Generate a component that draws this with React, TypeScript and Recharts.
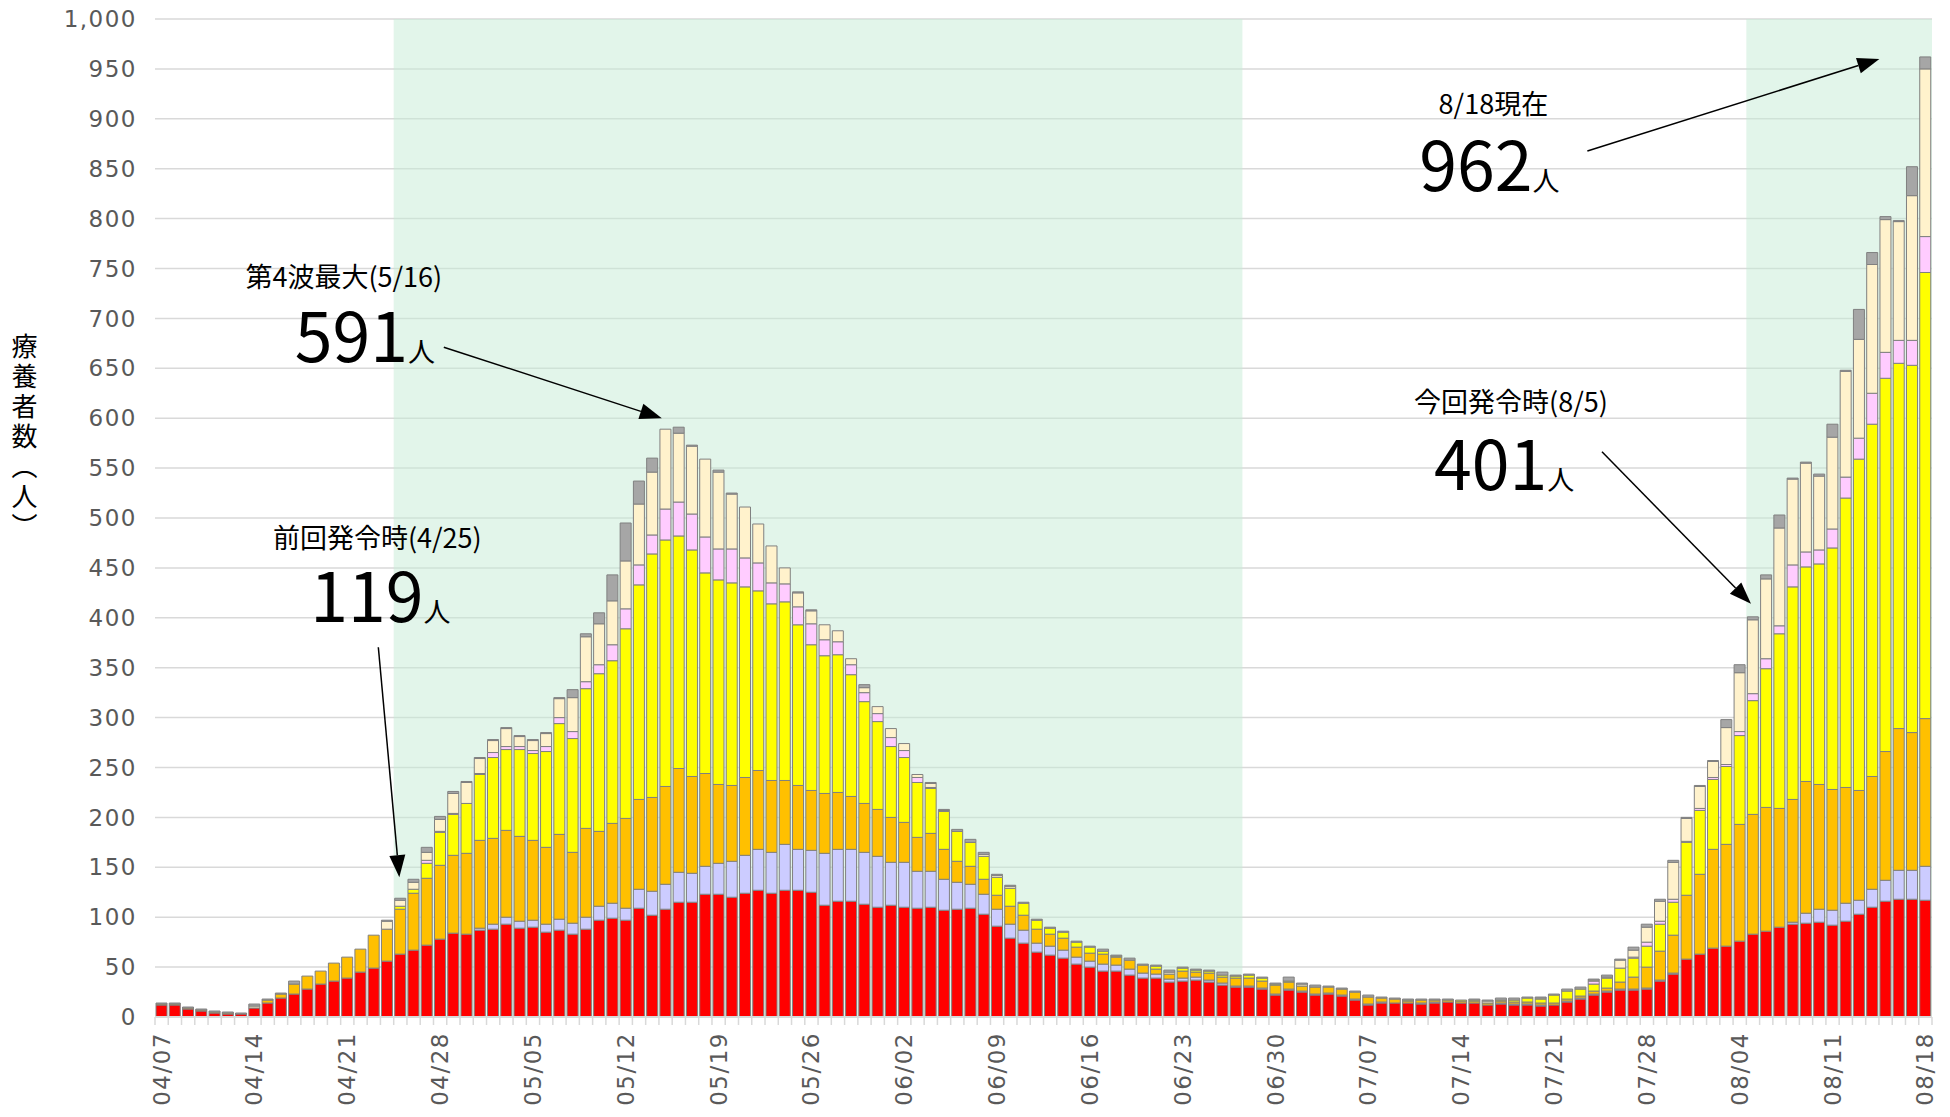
import React from 'react';
import { BarChart, Bar, XAxis, YAxis, CartesianGrid, ReferenceArea, ReferenceDot } from 'recharts';

// one bar per day, 04/07 - 08/18
const dates = [
    '04/07', '04/08', '04/09', '04/10', '04/11', '04/12', '04/13', '04/14', '04/15', '04/16', '04/17', '04/18',
    '04/19', '04/20', '04/21', '04/22', '04/23', '04/24', '04/25', '04/26', '04/27', '04/28', '04/29', '04/30',
    '05/01', '05/02', '05/03', '05/04', '05/05', '05/06', '05/07', '05/08', '05/09', '05/10', '05/11', '05/12',
    '05/13', '05/14', '05/15', '05/16', '05/17', '05/18', '05/19', '05/20', '05/21', '05/22', '05/23', '05/24',
    '05/25', '05/26', '05/27', '05/28', '05/29', '05/30', '05/31',
    '06/01', '06/02', '06/03', '06/04', '06/05', '06/06', '06/07', '06/08', '06/09', '06/10', '06/11', '06/12',
    '06/13', '06/14', '06/15', '06/16', '06/17', '06/18', '06/19', '06/20', '06/21', '06/22', '06/23', '06/24',
    '06/25', '06/26', '06/27', '06/28', '06/29', '06/30',
    '07/01', '07/02', '07/03', '07/04', '07/05', '07/06', '07/07', '07/08', '07/09', '07/10', '07/11', '07/12',
    '07/13', '07/14', '07/15', '07/16', '07/17', '07/18', '07/19', '07/20', '07/21', '07/22', '07/23', '07/24',
    '07/25', '07/26', '07/27', '07/28', '07/29', '07/30', '07/31',
    '08/01', '08/02', '08/03', '08/04', '08/05', '08/06', '08/07', '08/08', '08/09', '08/10', '08/11', '08/12',
    '08/13', '08/14', '08/15', '08/16', '08/17', '08/18',
];

// stacked segments, bottom to top
const red = [
    12, 12, 8, 6, 4, 3, 3, 9, 14, 19, 23, 28, 33, 36, 39, 45, 49, 56, 63, 67, 72,
    78, 84, 83, 87, 88, 93, 89, 90, 85, 87, 83, 88, 97, 99, 97, 109, 102, 108, 115, 115, 123,
    123, 120, 124, 127, 124, 127, 127, 125, 112, 116, 116, 113, 110, 112, 110, 109, 110, 107, 108, 109, 103,
    91, 79, 74, 65, 62, 59, 53, 50, 46, 46, 42, 39, 39, 35, 36, 37, 35, 32, 30, 30, 28,
    22, 27, 25, 22, 23, 21, 17, 12, 14, 14, 14, 13, 14, 15, 14, 14, 12, 13, 12, 12, 11,
    12, 15, 18, 22, 25, 27, 27, 28, 36, 43, 58, 63, 69, 71, 76, 83, 86, 90, 93, 94, 95,
    92, 96, 103, 110, 116, 118, 118, 117,
];
const lavender = [
    0, 0, 0, 0, 0, 0, 0, 0, 0, 0, 0, 0, 0, 0, 0, 0, 0, 0, 0, 0, 0,
    0, 0, 0, 2, 5, 7, 7, 7, 8, 11, 11, 12, 14, 15, 12, 19, 24, 25, 30, 29, 28,
    31, 36, 38, 41, 41, 46, 41, 42, 52, 52, 52, 52, 51, 43, 45, 37, 36, 31, 27, 24, 20,
    17, 14, 13, 9, 9, 8, 7, 6, 7, 6, 6, 5, 4, 3, 3, 3, 2, 2, 1, 1, 1,
    1, 1, 1, 1, 1, 1, 1, 1, 1, 0, 0, 1, 1, 0, 0, 0, 0, 1, 1, 1, 1,
    0, 1, 1, 1, 1, 1, 1, 1, 1, 1, 0, 0, 0, 0, 0, 0, 0, 0, 2, 10, 13,
    15, 18, 14, 18, 21, 29, 29, 34,
];
const orange = [
    1, 1, 1, 1, 1, 1, 0, 0, 3, 4, 10, 13, 13, 18, 21, 23, 33, 32, 45, 57, 67,
    74, 78, 81, 88, 86, 87, 85, 80, 77, 85, 71, 89, 75, 80, 90, 90, 94, 98, 104, 97, 93,
    79, 76, 78, 79, 72, 64, 64, 60, 60, 57, 53, 49, 47, 45, 40, 34, 38, 30, 21, 18, 15,
    14, 18, 15, 14, 12, 12, 10, 8, 10, 8, 9, 8, 5, 5, 7, 5, 7, 6, 8, 8, 7,
    9, 7, 5, 7, 6, 6, 7, 7, 4, 4, 2, 3, 2, 2, 2, 2, 2, 2, 2, 2, 2,
    2, 2, 2, 3, 3, 7, 12, 21, 29, 38, 64, 80, 99, 102, 117, 120, 124, 119, 123, 132, 125,
    121, 116, 110, 113, 129, 142, 138, 148,
];
const yellow = [
    0, 0, 0, 0, 0, 0, 0, 0, 0, 0, 0, 0, 0, 0, 0, 0, 0, 0, 3, 4, 15,
    33, 41, 50, 66, 81, 81, 87, 87, 96, 111, 114, 140, 158, 163, 190, 215, 244, 247, 233, 227, 201,
    205, 203, 191, 180, 177, 179, 161, 146, 138, 138, 122, 102, 88, 71, 65, 55, 45, 38, 30, 24, 23,
    18, 18, 12, 9, 6, 6, 5, 6, 3, 1, 0, 0, 3, 0, 3, 2, 2, 2, 2, 3, 3,
    1, 1, 0, 0, 0, 0, 0, 0, 0, 0, 1, 0, 0, 0, 1, 1, 0, 1, 2, 4, 4,
    8, 8, 7, 7, 10, 14, 19, 21, 27, 33, 53, 64, 70, 78, 89, 114, 139, 175, 213, 215, 221,
    242, 290, 332, 353, 374, 366, 368, 447,
];
const pink = [
    0, 0, 0, 0, 0, 0, 0, 0, 0, 0, 0, 0, 0, 0, 0, 0, 0, 0, 0, 0, 3,
    1, 1, 0, 1, 5, 3, 3, 3, 5, 6, 7, 7, 9, 16, 20, 20, 19, 31, 34, 36, 36,
    31, 34, 29, 28, 21, 18, 18, 21, 16, 13, 10, 9, 8, 9, 7, 5, 1, 0, 0, 0, 0,
    0, 0, 0, 0, 0, 0, 0, 0, 0, 0, 0, 0, 0, 0, 0, 0, 0, 0, 0, 0, 0,
    0, 0, 0, 0, 0, 0, 0, 0, 0, 0, 0, 0, 0, 0, 0, 0, 0, 0, 0, 0, 0,
    0, 0, 0, 3, 0, 0, 1, 4, 3, 3, 1, 2, 2, 2, 4, 7, 10, 8, 22, 15, 14,
    19, 21, 21, 31, 26, 23, 25, 36,
];
const cream = [
    0, 0, 0, 0, 0, 0, 0, 2, 0, 0, 0, 0, 0, 0, 0, 0, 0, 8, 6, 7, 8,
    12, 20, 21, 15, 12, 18, 10, 10, 13, 19, 34, 45, 41, 44, 48, 61, 63, 80, 69, 68, 78,
    77, 55, 51, 39, 37, 16, 14, 13, 15, 11, 6, 5, 7, 9, 7, 3, 4, 1, 0, 0, 2,
    2, 2, 0, 0, 0, 0, 0, 0, 0, 0, 0, 0, 0, 2, 0, 0, 0, 0, 0, 0, 0,
    0, 0, 2, 0, 0, 0, 0, 0, 0, 0, 0, 0, 0, 0, 0, 0, 2, 0, 0, 0, 1,
    0, 0, 0, 1, 1, 8, 7, 15, 20, 37, 23, 22, 16, 37, 59, 74, 80, 98, 86, 89, 74,
    92, 106, 99, 129, 133, 119, 145, 168,
];
const gray = [
    1, 1, 1, 1, 1, 1, 1, 2, 1, 1, 3, 0, 0, 0, 0, 0, 0, 1, 2, 3, 5,
    3, 2, 1, 1, 1, 1, 1, 1, 1, 1, 8, 3, 11, 26, 38, 23, 14, 0, 6, 1, 0,
    2, 1, 0, 0, 0, 0, 1, 1, 0, 0, 0, 3, 0, 0, 0, 0, 1, 1, 2, 3, 2,
    1, 1, 1, 1, 1, 1, 1, 1, 2, 1, 2, 1, 1, 2, 1, 1, 1, 3, 1, 1, 1,
    1, 4, 1, 2, 1, 1, 1, 2, 1, 1, 1, 1, 1, 1, 0, 1, 1, 2, 2, 1, 1,
    1, 2, 2, 1, 2, 1, 3, 3, 2, 2, 1, 1, 1, 8, 8, 3, 4, 13, 1, 1, 2,
    13, 1, 30, 12, 3, 1, 29, 12,
];

const yTicks = [0, 50, 100, 150, 200, 250, 300, 350, 400, 450, 500, 550, 600, 650, 700, 750, 800, 850, 900, 950, 1000];

const series = [
    { key: 'red', color: '#ff0000' },
    { key: 'lavender', color: '#ccccff' },
    { key: 'orange', color: '#ffc000' },
    { key: 'yellow', color: '#ffff00' },
    { key: 'pink', color: '#ffccff' },
    { key: 'cream', color: '#fff2cc' },
    { key: 'gray', color: '#a6a6a6' },
];

const data = dates.map((date, i) => ({
    date,
    red: red[i],
    lavender: lavender[i],
    orange: orange[i],
    yellow: yellow[i],
    pink: pink[i],
    cream: cream[i],
    gray: gray[i],
}));

const totalOf = (date: string) => {
    const i = dates.indexOf(date);
    return red[i] + lavender[i] + orange[i] + yellow[i] + pink[i] + cream[i] + gray[i];
};

const JP_FONT = '"Noto Sans CJK JP", sans-serif';
const TICK_FONT = '"DejaVu Sans", sans-serif';
const TICK_COLOR = '#595959';

const PLOT_LEFT = 155;
const PLOT_RIGHT = 1932;
const BAND = (PLOT_RIGHT - PLOT_LEFT) / dates.length;

// callouts: offsets are relative to the top of the bar they point at
type Note = {
    date: string,
    title: string,
    title_dx: number, title_dy: number,
    num_dx: number, num_dy: number,
    from: [number, number],
    to: [number, number],
};

const notes: Note[] = [
    { date: '04/25', title: '前回発令時(4/25)', title_dx: -23, title_dy: -362, num_dx: -90, num_dy: -276, from: [-22, -251], to: [-1, -21] },
    { date: '05/16', title: '第4波最大(5/16)', title_dx: -335, title_dy: -152, num_dx: -384, num_dy: -65, from: [-235, -80], to: [-17, -9] },
    { date: '08/05', title: '今回発令時(8/5)', title_dx: -242, title_dy: -216, num_dx: -319, num_dy: -127, from: [-151, -165], to: [-2, -13] },
    { date: '08/18', title: '8/18現在', title_dx: -432, title_dy: 46, num_dx: -506, num_dy: 134, from: [-338, 94], to: [-46, 2] },
];

function Arrow({ x1, y1, x2, y2 }: { x1: number, y1: number, x2: number, y2: number }) {
    const len = Math.hypot(x2 - x1, y2 - y1);
    const ux = (x2 - x1) / len;
    const uy = (y2 - y1) / len;
    const head = 22;
    const half = 8;
    const bx = x2 - ux * head;
    const by = y2 - uy * head;
    const pts = `${x2},${y2} ${bx - uy * half},${by + ux * half} ${bx + uy * half},${by - ux * half}`;
    return (
        <g>
            <line x1={x1} y1={y1} x2={bx} y2={by} stroke="#000" strokeWidth={1.5} />
            <polygon points={pts} fill="#000" />
        </g>
    );
}

const noteShape = (note: Note, total: number) => (props: any) => {
    const { cx, cy } = props;
    if (cx == null || cy == null) return <g />;
    return (
        <g>
            <text x={cx + note.title_dx} y={cy + note.title_dy} textAnchor="middle" dominantBaseline="central"
                fontFamily={JP_FONT} fontSize={27} fill="#000">{note.title}</text>
            <text x={cx + note.num_dx} y={cy + note.num_dy} fontFamily={JP_FONT} fill="#000">
                <tspan fontSize={68}>{total}</tspan>
                <tspan fontSize={27}>人</tspan>
            </text>
            <Arrow x1={cx + note.from[0]} y1={cy + note.from[1]} x2={cx + note.to[0]} y2={cy + note.to[1]} />
        </g>
    );
};

function XTick(props: any) {
    const { x, y, index, payload } = props;
    const left = x - BAND / 2;
    const lx = x + 8;
    const ly = y + 15;
    return (
        <g>
            <line x1={left} x2={left} y1={y} y2={y + 8} stroke="#d9d9d9" strokeWidth={1.5} />
            {index === dates.length - 1 &&
                <line x1={left + BAND} x2={left + BAND} y1={y} y2={y + 8} stroke="#d9d9d9" strokeWidth={1.5} />}
            {index % 7 === 0 &&
                <text x={lx} y={ly} transform={`rotate(-90 ${lx} ${ly})`} textAnchor="end"
                    fontFamily={TICK_FONT} fontSize={23} letterSpacing={1.5} fill={TICK_COLOR}>{payload.value}</text>}
        </g>
    );
}

function App() {
    return (
        <div style={{ position: 'absolute', left: 0, top: 0, width: 1950, height: 1117, background: '#fff' }}>
            <div style={{
                position: 'absolute', left: 11, top: 333, writingMode: 'vertical-rl',
                fontFamily: JP_FONT, fontSize: 26, lineHeight: 1, letterSpacing: 4, color: '#000',
            }}>療養者数（人）</div>
            <BarChart
                width={1950}
                height={1117}
                data={data}
                margin={{ top: 19, right: 1950 - PLOT_RIGHT, bottom: 0, left: 0 }}
                barCategoryGap={1}
            >
                <ReferenceArea x1="04/25" x2="06/27" fill="#c5ebd5" fillOpacity={0.5} stroke="none" ifOverflow="extendDomain" />
                <ReferenceArea x1="08/05" x2="08/18" fill="#c5ebd5" fillOpacity={0.5} stroke="none" ifOverflow="extendDomain" />
                <CartesianGrid vertical={false} stroke="#d9d9d9" strokeWidth={1.5} />
                <XAxis
                    dataKey="date"
                    height={100}
                    interval={0}
                    tickSize={0}
                    tickMargin={0}
                    tickLine={false}
                    axisLine={{ stroke: '#d9d9d9', strokeWidth: 2 }}
                    tick={<XTick />}
                />
                <YAxis
                    width={PLOT_LEFT}
                    domain={[0, 1000]}
                    ticks={yTicks}
                    interval={0}
                    axisLine={false}
                    tickLine={false}
                    tickSize={0}
                    tickMargin={18}
                    tickFormatter={(v: number) => v.toLocaleString('en-US')}
                    tick={{ fill: TICK_COLOR, fontSize: 23, fontFamily: TICK_FONT, letterSpacing: 1.5 }}
                />
                {series.map(s => (
                    <Bar key={s.key} dataKey={s.key} stackId="a" fill={s.color}
                        stroke="#808080" strokeWidth={1} isAnimationActive={false} />
                ))}
                {notes.map(n => (
                    <ReferenceDot key={n.date} x={n.date} y={totalOf(n.date)} r={0}
                        shape={noteShape(n, totalOf(n.date))} />
                ))}
            </BarChart>
        </div>
    );
}

export default App;
